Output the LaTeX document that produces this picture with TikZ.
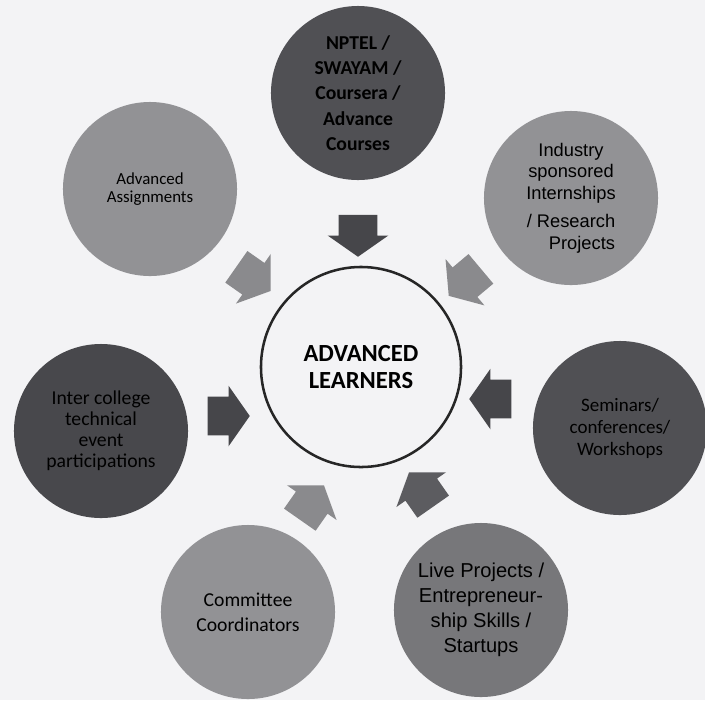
\documentclass[tikz,border=0pt]{standalone}
\usepackage{fontspec}
\setmainfont{Carlito}
\newfontfamily\arialfont{Liberation Sans}
\usetikzlibrary{shapes.arrows}

\definecolor{paper}{HTML}{F3F3F5}
\definecolor{darkbub}{HTML}{505054}
\definecolor{deepbub}{HTML}{48484C}
\definecolor{midbub}{HTML}{77777A}
\definecolor{lightbub}{HTML}{929295}
\definecolor{darkarr}{HTML}{46464A}
\definecolor{midarr}{HTML}{5C5C60}
\definecolor{lightarr}{HTML}{8A8A8D}

\tikzset{
  bubble/.style={circle, minimum size=4.35cm, inner sep=0pt, align=center, text=black},
  blockarrow/.style={single arrow, minimum height=1.05cm, minimum width=0pt,
    inner xsep=0pt, inner ysep=0.475cm, single arrow head extend=0.275cm,
    single arrow tip angle=110},
}

\begin{document}
\begin{tikzpicture}[x=0.025cm, y=-0.025cm]
  \fill[paper] (0,0) rectangle (705,700);
  \useasboundingbox (0,0) rectangle (705,700);

  % centre
  \node[circle, draw=black!85, line width=1.8pt, minimum size=5cm, align=center,
        font=\fontsize{17.5}{19}\selectfont\bfseries] (learners) at (361,367)
        {ADVANCED\\LEARNERS};

  % outer bubbles
  \node[bubble, fill=darkbub, font=\fontsize{14}{18}\selectfont\bfseries] (nptel) at (358,93)
        {NPTEL /\\SWAYAM /\\Coursera /\\Advance\\Courses};
  \node[bubble, fill=lightbub, font=\fontsize{12}{13}\selectfont] (assign) at (150,189)
        {Advanced\\Assignments};
  \node[bubble, fill=lightbub, font=\arialfont\fontsize{13}{15.6}\selectfont] (industry) at (571,198)
        {Industry\\sponsored\\Internships\\[4pt]/ Research\\\hspace{1.2em}Projects};
  \node[bubble, fill=deepbub, font=\fontsize{14}{15}\selectfont] (intercol) at (101,431)
        {Inter college\\technical\\event\\participations};
  \node[bubble, fill=darkbub, font=\fontsize{13.5}{15.6}\selectfont] (seminar) at (620,428)
        {Seminars/\\conferences/\\Workshops};
  \node[bubble, fill=lightbub, font=\fontsize{14}{17.7}\selectfont] (committee) at (248,612)
        {Committee\\Coordinators};
  \node[bubble, fill=midbub, font=\arialfont\fontsize{14.3}{17.7}\selectfont] (live) at (481,610)
        {Live Projects /\\Entrepreneur-\\ship Skills /\\Startups};

  % block arrows
  \node[blockarrow, fill=darkarr, rotate=-90] (a-nptel) at (358,229) {};
  \node[blockarrow, fill=lightarr, rotate=-35] (a-assign) at (248,275) {};
  \node[blockarrow, fill=lightarr, rotate=-140] (a-industry) at (470,278) {};
  \node[blockarrow, fill=darkarr] (a-intercol) at (222,416) {};
  \node[blockarrow, fill=darkarr, rotate=180] (a-seminar) at (497,399) {};
  \node[blockarrow, fill=lightarr, rotate=55] (a-committee) at (308,508) {};
  \node[blockarrow, fill=midarr, rotate=125] (a-live) at (425,495) {};
\end{tikzpicture}
\end{document}
